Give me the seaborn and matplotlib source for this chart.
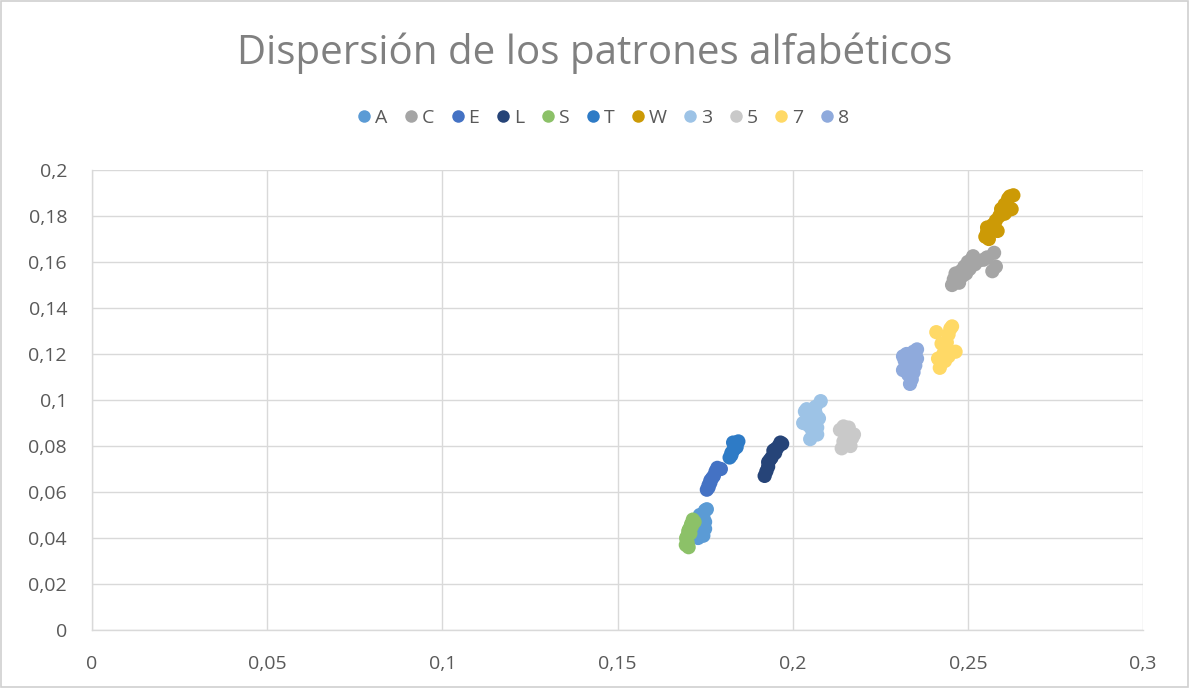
import matplotlib
matplotlib.use("Agg")
import matplotlib.pyplot as plt
from matplotlib.ticker import FuncFormatter, MultipleLocator
import seaborn as sns
import pandas as pd

# Pattern samples: (x, y) pairs per character
A_x = [0.173, 0.1745, 0.174, 0.1745, 0.175, 0.1745, 0.1735, 0.175, 0.1755, 0.1735, 0.175, 0.1728]
A_y = [0.040, 0.041, 0.043, 0.045, 0.047, 0.049, 0.050, 0.052, 0.0525, 0.046, 0.044, 0.048]

C_x = [0.2455, 0.246, 0.2465, 0.247, 0.248, 0.249, 0.2495, 0.250, 0.251, 0.2505, 0.252, 0.253,
       0.2545, 0.2555, 0.2575, 0.257, 0.258, 0.2475, 0.2485, 0.2515]
C_y = [0.150, 0.1525, 0.155, 0.153, 0.156, 0.158, 0.155, 0.160, 0.161, 0.157, 0.159, 0.1605,
       0.161, 0.162, 0.164, 0.156, 0.158, 0.151, 0.154, 0.1625]

E_x = [0.1755, 0.176, 0.1765, 0.1775, 0.178, 0.1795, 0.1785, 0.176, 0.177, 0.1765]
E_y = [0.061, 0.063, 0.065, 0.067, 0.069, 0.070, 0.0705, 0.062, 0.066, 0.064]

L_x = [0.192, 0.1925, 0.193, 0.193, 0.1935, 0.194, 0.195, 0.1955, 0.196, 0.197, 0.1965, 0.1945, 0.195]
L_y = [0.067, 0.069, 0.071, 0.073, 0.074, 0.075, 0.077, 0.079, 0.080, 0.081, 0.0815, 0.078, 0.0785]

S_x = [0.1695, 0.1698, 0.1700, 0.1702, 0.1705, 0.1710, 0.1715, 0.1712, 0.1700, 0.1708, 0.1696, 0.1720, 0.1703]
S_y = [0.037, 0.039, 0.041, 0.043, 0.044, 0.046, 0.048, 0.045, 0.038, 0.042, 0.040, 0.047, 0.036]

T_x = [0.182, 0.1825, 0.183, 0.1835, 0.184, 0.1845, 0.183, 0.1825, 0.1835, 0.184]
T_y = [0.075, 0.077, 0.078, 0.080, 0.081, 0.082, 0.0815, 0.076, 0.079, 0.0795]

W_x = [0.255, 0.2555, 0.2555, 0.256, 0.257, 0.258, 0.2575, 0.259, 0.2595, 0.2605, 0.261, 0.2615,
       0.262, 0.263, 0.2625, 0.2605, 0.2585]
W_y = [0.171, 0.173, 0.175, 0.170, 0.176, 0.178, 0.174, 0.180, 0.183, 0.181, 0.182, 0.1875,
       0.1885, 0.189, 0.183, 0.185, 0.1735]

N3_x = [0.2035, 0.204, 0.2045, 0.205, 0.206, 0.2055, 0.205, 0.207, 0.2075, 0.2065, 0.208, 0.2065,
        0.203, 0.2045, 0.207]
N3_y = [0.095, 0.096, 0.093, 0.091, 0.089, 0.087, 0.083, 0.085, 0.092, 0.0945, 0.0995, 0.097,
        0.090, 0.089, 0.088]

N5_x = [0.2135, 0.2145, 0.215, 0.2155, 0.216, 0.2175, 0.2145, 0.2165, 0.214, 0.2155, 0.217]
N5_y = [0.087, 0.0885, 0.086, 0.084, 0.088, 0.085, 0.082, 0.080, 0.079, 0.0805, 0.0835]

N7_x = [0.2415, 0.242, 0.2425, 0.241, 0.243, 0.2435, 0.244, 0.2445, 0.245, 0.2455, 0.2465, 0.2445,
        0.2435, 0.2425]
N7_y = [0.118, 0.114, 0.116, 0.1295, 0.120, 0.122, 0.125, 0.1285, 0.131, 0.132, 0.121, 0.119,
        0.117, 0.1245]

N8_x = [0.2315, 0.232, 0.2325, 0.2315, 0.233, 0.2335, 0.234, 0.2345, 0.235, 0.234, 0.2345, 0.2355,
        0.2325, 0.2335, 0.2355]
N8_y = [0.119, 0.117, 0.115, 0.113, 0.111, 0.107, 0.109, 0.112, 0.115, 0.118, 0.121, 0.122,
        0.120, 0.116, 0.118]

series = {
    "A": (A_x, A_y), "C": (C_x, C_y), "E": (E_x, E_y), "L": (L_x, L_y),
    "S": (S_x, S_y), "T": (T_x, T_y), "W": (W_x, W_y), "3": (N3_x, N3_y),
    "5": (N5_x, N5_y), "7": (N7_x, N7_y), "8": (N8_x, N8_y),
}
labels = list(series.keys())
colors = ["#5B9BD5", "#A5A5A5", "#4472C4", "#264478", "#8CC168", "#2E7BC6",
          "#CC9A06", "#9DC3E6", "#C9C9C9", "#FFD966", "#8FAADC"]
palette = dict(zip(labels, colors))

rows = []
for name, (xs, ys) in series.items():
    for x, y in zip(xs, ys):
        rows.append({"x": x, "y": y, "patron": name})
df = pd.DataFrame(rows)

sns.set_theme(style="white")
plt.rcParams["font.family"] = ["Open Sans", "DejaVu Sans"]

fig = plt.figure(figsize=(11.89, 6.88), dpi=100)
ax = fig.add_axes([0.0774, 0.0843, 0.9613 - 0.0774, 0.7529 - 0.0843])

sns.scatterplot(data=df, x="x", y="y", hue="patron", hue_order=labels, palette=palette,
                s=105, linewidth=0, alpha=1, ax=ax, legend=False)

ax.set_xlim(0, 0.3)
ax.set_ylim(0, 0.2)
ax.xaxis.set_major_locator(MultipleLocator(0.05))
ax.yaxis.set_major_locator(MultipleLocator(0.02))


def comma_fmt(v, _pos):
    s = f"{v:.2f}".rstrip("0").rstrip(".")
    return s.replace(".", ",")


ax.xaxis.set_major_formatter(FuncFormatter(comma_fmt))
ax.yaxis.set_major_formatter(FuncFormatter(comma_fmt))
ax.grid(True, color="#D9D9D9", linewidth=1)
ax.set_axisbelow(True)
for side in ["top", "right"]:
    ax.spines[side].set_visible(False)
for side in ["left", "bottom"]:
    ax.spines[side].set_color("#D9D9D9")
    ax.spines[side].set_linewidth(1)
ax.tick_params(axis="both", colors="#595959", labelsize=14, length=0)
ax.tick_params(axis="x", pad=18)
ax.tick_params(axis="y", pad=18)
ax.set_xlabel("")
ax.set_ylabel("")

fig.text(0.5, 1 - 53 / 688, "Dispersión de los patrones alfabéticos", ha="center", va="center",
         fontsize=29, color="#808080")

handles = [plt.Line2D([], [], marker="o", linestyle="", markersize=9, color=palette[n],
                      markeredgewidth=0) for n in labels]
fig.legend(handles, labels, loc="center", bbox_to_anchor=(0.506, 1 - 118 / 688), ncol=len(labels),
           frameon=False, fontsize=14, labelcolor="#595959", handletextpad=0.05,
           columnspacing=0.72, handlelength=1.0)

fig.patches.append(plt.Rectangle((0.0008, 0.0012), 0.9984, 0.9976, transform=fig.transFigure,
                                 fill=False, edgecolor="#D0D0D0", linewidth=1.2))

fig.savefig("out.png", dpi=100)
